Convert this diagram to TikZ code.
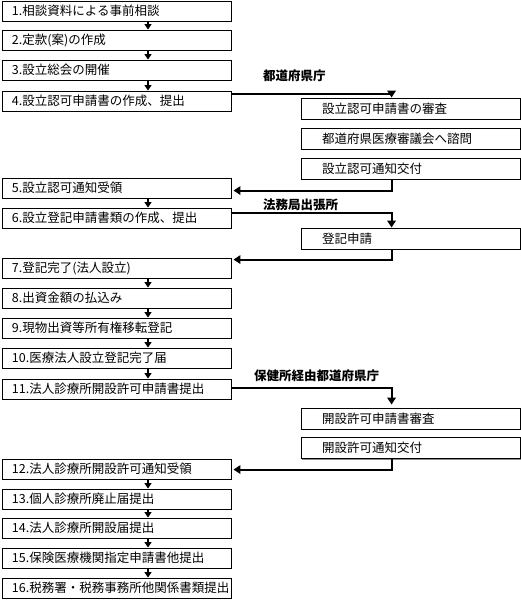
\documentclass[tikz,border=0pt]{standalone}
\usepackage{fontspec}
\setmainfont{Noto Sans CJK JP}
\usetikzlibrary{arrows.meta,calc,shadows}
\newcommand\boxtxtL[1]{\makebox[209pt][l]{#1}}
\newcommand\boxtxtR[1]{\makebox[177pt][l]{#1}}
\begin{document}
\begin{tikzpicture}[x=1pt,y=-1pt,
  boxbase/.style={draw=black,line width=0.9pt,fill=white,inner sep=0pt,
    font=\fontsize{12.5}{14}\selectfont,
    drop shadow={shadow xshift=0.8pt,shadow yshift=-1.3pt,fill=black!45,opacity=1}},
  lbox/.style={boxbase,minimum width=229pt,minimum height=20pt},
  rbox/.style={boxbase,minimum width=219pt,minimum height=21pt},
  office/.style={anchor=west,inner sep=0pt,font=\fontsize{12.5}{14}\selectfont\bfseries},
  varrow/.style={line width=2.1pt,-{Triangle[length=5.5pt,width=7pt]}},
  harrow/.style={line width=2.1pt,-{Triangle[length=7pt,width=8.5pt]}}]
\useasboundingbox (0,0) rectangle (521,600);
\fill[white] (0,0) rectangle (521,600);
% left column
\node[lbox] (b1)  at (116.5,11)  {\boxtxtL{1.相談資料による事前相談}};
\node[lbox] (b2)  at (116.5,40)  {\boxtxtL{2.定款(案)の作成}};
\node[lbox] (b3)  at (116.5,70)  {\boxtxtL{3.設立総会の開催}};
\node[lbox] (b4)  at (116.5,101) {\boxtxtL{4.設立認可申請書の作成、提出}};
\node[lbox] (b5)  at (116.5,188) {\boxtxtL{5.設立認可通知受領}};
\node[lbox] (b6)  at (116.5,218) {\boxtxtL{6.設立登記申請書類の作成、提出}};
\node[lbox] (b7)  at (116.5,268) {\boxtxtL{7.登記完了(法人設立)}};
\node[lbox] (b8)  at (116.5,298) {\boxtxtL{8.出資金額の払込み}};
\node[lbox] (b9)  at (116.5,328) {\boxtxtL{9.現物出資等所有権移転登記}};
\node[lbox] (b10) at (116.5,358) {\boxtxtL{10.医療法人設立登記完了届}};
\node[lbox] (b11) at (116.5,389) {\boxtxtL{11.法人診療所開設許可申請書提出}};
\node[lbox] (b12) at (116.5,469) {\boxtxtL{12.法人診療所開設許可通知受領}};
\node[lbox] (b13) at (116.5,499) {\boxtxtL{13.個人診療所廃止届提出}};
\node[lbox] (b14) at (116.5,528) {\boxtxtL{14.法人診療所開設届提出}};
\node[lbox] (b15) at (116.5,558) {\boxtxtL{15.保険医療機関指定申請書他提出}};
\node[lbox] (b16) at (116.5,588) {\boxtxtL{16.税務署・税務事務所他関係書類提出}};
% right column
\node[rbox] (r1)  at (410.5,108.5) {\boxtxtR{設立認可申請書の審査}};
\node[rbox] (r2)  at (410.5,138.5) {\boxtxtR{都道府県医療審議会へ諮問}};
\node[rbox] (r3)  at (410.5,168.5) {\boxtxtR{設立認可通知交付}};
\node[rbox] (reg) at (410.5,238.5) {\boxtxtR{登記申請}};
\node[rbox] (s1)  at (410.5,418.5) {\boxtxtR{開設許可申請書審査}};
\node[rbox] (s2)  at (410.5,448)   {\boxtxtR{開設許可通知交付}};
% office labels
\node[office] (o1) at (263,76)  {都道府県庁};
\node[office] (o2) at (263,204.5) {法務局出張所};
\node[office] (o3) at (254,376) {保健所経由都道府県庁};
% vertical arrows in the left column
\foreach \a/\b in {b1/b2,b2/b3,b3/b4,b5/b6,b7/b8,b8/b9,b9/b10,b10/b11,b12/b13,b13/b14,b14/b15,b15/b16}
  \draw[varrow] ($(\a.south)+(31.5,0)$) -- ($(\b.north)+(31.5,0)$);
% connectors to and from the offices
\draw[harrow] ($(b4.north east)+(0,3)$) -| ($(r1.north west)+(91,0)$);
\draw[harrow] ($(r3.south west)+(91,0)$) |- ($(b5.north east)+(2,13)$);
\draw[harrow] ($(b6.north east)+(0,5)$) -| ($(reg.north west)+(91,0)$);
\draw[harrow] ($(reg.south west)+(91,0)$) |- ($(b7.north east)+(2,2)$);
\draw[harrow] ($(b11.north east)+(0,9)$) -| ($(s1.north west)+(91,-3)$);
\draw[harrow] ($(s2.south west)+(91,0)$) |- ($(b12.north east)+(2,11)$);
\end{tikzpicture}
\end{document}
